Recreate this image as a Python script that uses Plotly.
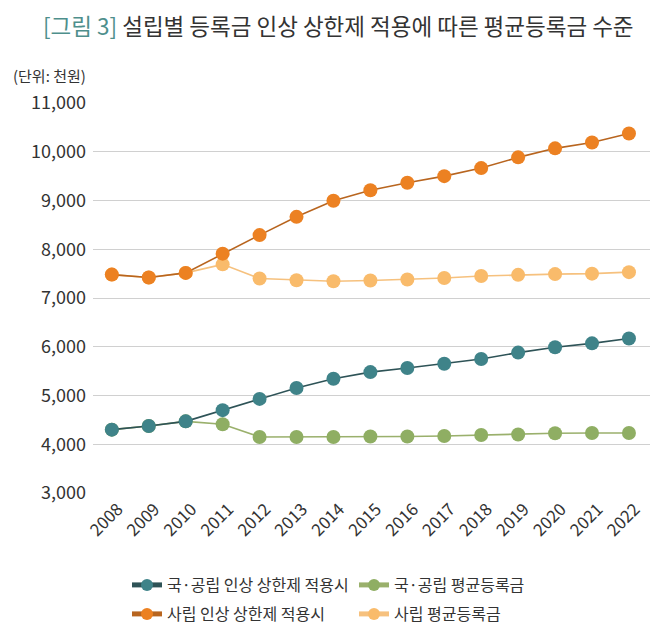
import plotly.graph_objects as go

years = list(range(2008, 2023))
pub_cap = [4300, 4375, 4470, 4700, 4930, 5155, 5345, 5480, 5565, 5650, 5750, 5880, 5990, 6070, 6170]
pub_avg = [4300, 4375, 4470, 4410, 4150, 4150, 4150, 4160, 4160, 4170, 4190, 4200, 4225, 4230, 4230]
pri_cap = [7480, 7420, 7515, 7910, 8290, 8665, 8995, 9210, 9365, 9500, 9665, 9885, 10070, 10190, 10375]
pri_avg = [7480, 7420, 7515, 7690, 7400, 7365, 7345, 7360, 7380, 7410, 7450, 7475, 7490, 7500, 7530]
names = ["국·공립 인상 상한제 적용시", "국·공립 평균등록금", "사립 인상 상한제 적용시", "사립 평균등록금"]
yticks = [3000, 4000, 5000, 6000, 7000, 8000, 9000, 10000, 11000]

FONT = "Noto Sans CJK KR"
OFF = 8  # page body margin
W, H = 658 - 2 * OFF, 638 - 2 * OFF
# plot area in screen coords: x 93..650, y 103..493
L, T = 93 - OFF, 103 - OFF
R = W - (650 - OFF)
B = H - (493 - OFF)
PW, PH = W - L - R, H - T - B


def px(xs):
    return (xs - OFF - L) / PW


def py(ys):
    return (H - B - (ys - OFF)) / PH


fig = go.Figure()

series = [
    (pub_avg, names[1], "#8fae63", "#9ab06c", 2, "legend"),
    (pri_avg, names[3], "#f9bb6b", "#f6c17e", 4, "legend2"),
    (pub_cap, names[0], "#3f8389", "#2e5357", 1, "legend"),
    (pri_cap, names[2], "#ec8122", "#b8651f", 3, "legend2"),
]
for vals, nm, mc, lc, rank, lg in series:
    fig.add_trace(go.Scatter(
        x=years, y=vals, name=nm, mode="lines+markers",
        line=dict(color=lc, width=1.6),
        marker=dict(color=mc, size=14, line=dict(width=0)),
        legendrank=rank, legend=lg, cliponaxis=False,
    ))

legend_common = dict(orientation="h", xanchor="left", yanchor="middle",
                      font=dict(size=16, color="#333333"), entrywidth=182,
                      traceorder="normal", itemsizing="constant", bgcolor="rgba(0,0,0,0)")

fig.update_layout(
    width=W, height=H,
    margin=dict(l=L, r=R, t=T, b=B, autoexpand=False),
    paper_bgcolor="white", plot_bgcolor="white",
    font=dict(family=FONT, color="#333333"),
    showlegend=True,
    legend=dict(x=px(127), y=py(585), **legend_common),
    legend2=dict(x=px(127), y=py(614), **legend_common),
    xaxis=dict(tickmode="array", tickvals=years, ticktext=[str(y) for y in years],
               range=[2007.49, 2022.57], showgrid=False, zeroline=False,
               tickangle=-45, tickfont=dict(size=17, color="#333333"), ticks="",
               showline=False, automargin=False, ticklabelshift=6, ticklabelstandoff=2),
    yaxis=dict(range=[3000, 11000], tickvals=yticks,
               ticktext=[f"{v:,}" for v in yticks], automargin=False,
               showgrid=True, gridcolor="#d0d0d0", gridwidth=1.2, zeroline=False,
               tickfont=dict(size=18, color="#333333"), ticks="", ticklabelstandoff=6),
)

fig.add_annotation(
    xref="paper", yref="paper", x=px(338), y=py(25), xanchor="center", yanchor="middle",
    text="<span style='color:#4e8f8c'>[그림 3]</span> 설립별 등록금 인상 상한제 적용에 따른 평균등록금 수준",
    showarrow=False, font=dict(size=22.5, color="#333333", family=FONT))
fig.add_annotation(
    xref="paper", yref="paper", x=px(11), y=py(75), xanchor="left", yanchor="middle",
    text="(단위: 천원)", showarrow=False, font=dict(size=15, color="#333333", family=FONT))

fig.write_html("out.html")
